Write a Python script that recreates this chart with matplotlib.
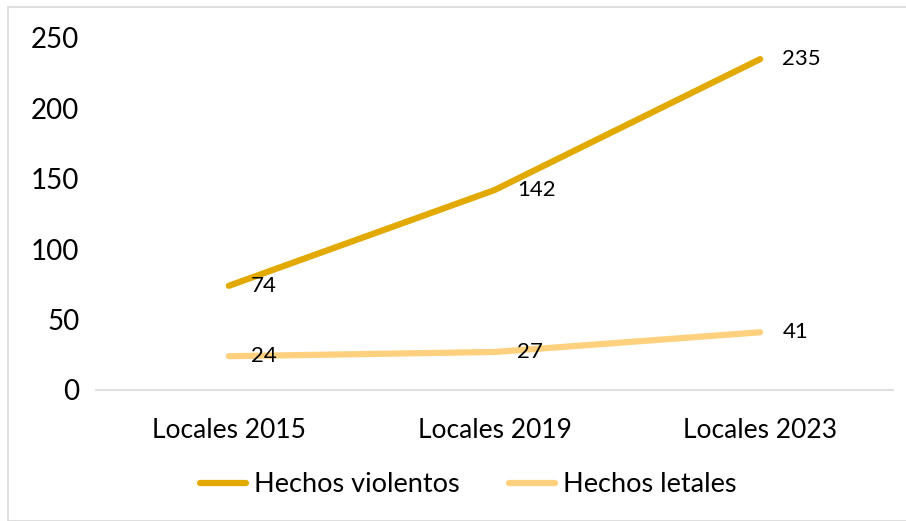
import matplotlib.pyplot as plt
import matplotlib.patches as mpatches

plt.rcParams['font.family'] = ['Lato', 'DejaVu Sans']

categorias = ["Locales 2015", "Locales 2019", "Locales 2023"]
violentos = [74, 142, 235]
letales = [24, 27, 41]

fig = plt.figure(figsize=(9.06, 5.21), dpi=100)
ax = fig.add_axes([96/906, 1-390/521, (893-96)/906, (390-38)/521])

x = range(len(categorias))
ax.plot(x, violentos, color="#E2AA00", lw=4.5, solid_capstyle="round", label="Hechos violentos")
ax.plot(x, letales, color="#FFD17F", lw=4.5, solid_capstyle="round", label="Hechos letales")

for serie in (violentos, letales):
    for i, v in enumerate(serie):
        ax.annotate(str(v), (i, v), xytext=(16, 0), textcoords="offset points",
                    ha="left", va="center", fontsize=16, color="black")

ax.set_xlim(-0.5, 2.5)
ax.set_ylim(0, 250)
ax.set_yticks([0, 50, 100, 150, 200, 250])
ax.set_xticks(list(x))
ax.set_xticklabels(categorias)
ax.tick_params(axis="both", length=0)
ax.tick_params(axis="y", pad=12, labelsize=20)
ax.tick_params(axis="x", pad=20, labelsize=19)
for s in ("top", "right", "left"):
    ax.spines[s].set_visible(False)
ax.spines["bottom"].set_color("#D9D9D9")
ax.spines["bottom"].set_linewidth(1.2)

leg = ax.legend(loc="center", bbox_to_anchor=(0.467, 1-(485-38)/352), ncol=2, frameon=False,
                fontsize=19.5, handlelength=1.7, handletextpad=0.3, columnspacing=1.8)

fig.patches.append(mpatches.Rectangle((8/906, 0), 1, 1-7/521, transform=fig.transFigure,
                                      fill=False, edgecolor="#D9D9D9", lw=1.2))

fig.savefig("out.png", dpi=100)
